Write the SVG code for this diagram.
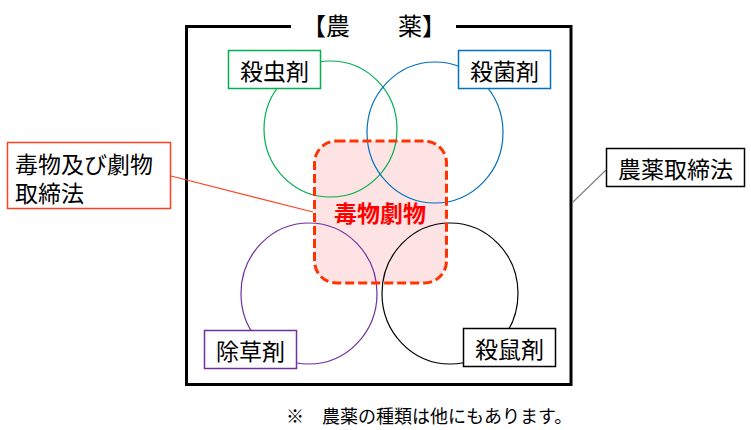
<svg xmlns="http://www.w3.org/2000/svg" width="751" height="430" viewBox="0 0 751 430">
  <style>
    text { font-family: "Noto Sans CJK JP", "Noto Sans CJK SC", sans-serif; fill: #000; }
    .lbl { font-size: 23px; text-anchor: middle; dominant-baseline: central; }
    .box { fill: #fff; stroke-width: 1.5; }
    .ring { fill: none; stroke-width: 1.2; }
  </style>
  <rect x="0" y="0" width="751" height="430" fill="#fff"/>

  <g id="frame">
    <path d="M291,26.5 H186.5 V384.5 H571 V26.5 H456" fill="none" stroke="#000" stroke-width="3"/>
    <text x="374" y="24" font-size="24" text-anchor="middle" dominant-baseline="central">【農　　薬】</text>
  </g>

  <g id="poison-area">
    <rect x="314.5" y="141" width="132" height="142" rx="22" ry="22" fill="#fde3e3"/>
  </g>

  <g id="insecticide-circle"><ellipse class="ring" cx="330.5" cy="129" rx="66.5" ry="68" stroke="#00b050"/></g>
  <g id="fungicide-circle"><ellipse class="ring" cx="435" cy="132.5" rx="68" ry="70.5" stroke="#0070c0"/></g>
  <g id="herbicide-circle"><ellipse class="ring" cx="309" cy="293.5" rx="68" ry="70.5" stroke="#7030a0"/></g>
  <g id="rodenticide-circle"><ellipse class="ring" cx="450" cy="293.5" rx="68" ry="70.5" stroke="#000"/></g>

  <g id="poison">
    <rect x="314.5" y="141" width="132" height="142" rx="22" ry="22" fill="none" stroke="#ff3300" stroke-width="3" stroke-dasharray="9,4"/>
    <text x="380" y="212" font-size="23" font-weight="bold" text-anchor="middle" dominant-baseline="central" style="fill:#ff0000">毒物劇物</text>
  </g>

  <g id="connectors">
    <line x1="171" y1="176" x2="313" y2="212" stroke="#ff4020" stroke-width="1.2"/>
    <line x1="606" y1="170" x2="573" y2="202" stroke="#808080" stroke-width="1.2"/>
  </g>

  <g id="insecticide">
    <rect class="box" x="228.5" y="50.5" width="92" height="38" stroke="#00b050"/>
    <text class="lbl" x="274.5" y="69.5">殺虫剤</text>
  </g>
  <g id="fungicide">
    <rect class="box" x="458.5" y="50.5" width="92" height="38" stroke="#0070c0"/>
    <text class="lbl" x="504.5" y="69.5">殺菌剤</text>
  </g>
  <g id="herbicide">
    <rect class="box" x="204.5" y="330.5" width="92" height="38" stroke="#7030a0"/>
    <text class="lbl" x="250.5" y="349.5">除草剤</text>
  </g>
  <g id="rodenticide">
    <rect class="box" x="463.5" y="328.5" width="92" height="38" stroke="#000"/>
    <text class="lbl" x="509.5" y="347.5">殺鼠剤</text>
  </g>

  <g id="poison-law">
    <rect class="box" x="7.5" y="142.5" width="163" height="66" stroke="#ff4020"/>
    <text font-size="23" dominant-baseline="central"><tspan x="15" y="162.5">毒物及び劇物</tspan><tspan x="15" y="192">取締法</tspan></text>
  </g>
  <g id="agri-law">
    <rect class="box" x="606.5" y="148.5" width="138" height="38" stroke="#000"/>
    <text class="lbl" x="675.5" y="167.5">農薬取締法</text>
  </g>

  <g id="note">
    <text x="286" y="415" font-size="18" dominant-baseline="central">※　農薬の種類は他にもあります。</text>
  </g>
</svg>
